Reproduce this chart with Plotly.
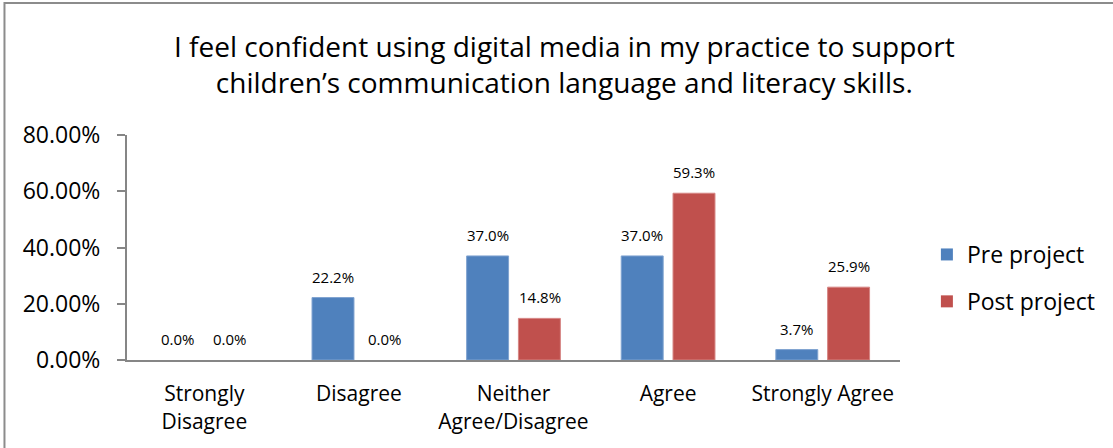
import plotly.graph_objects as go

categories = ["Strongly<br>Disagree", "Disagree", "Neither<br>Agree/Disagree", "Agree", "Strongly Agree"]
pre_project = [0.0, 0.222, 0.370, 0.370, 0.037]
post_project = [0.0, 0.0, 0.148, 0.593, 0.259]
y_ticks = [0, 0.2, 0.4, 0.6, 0.8]

FONT = "Open Sans"
W, H = 1113, 448
L, R, T, B = 127, 210, 135, 88
pw, ph = W - L - R, H - T - B

fig = go.Figure()
fig.add_trace(go.Bar(name="Pre project", x=categories, y=pre_project,
                     marker=dict(color="#4F81BD",
                                 line=dict(color="#7FA3D0", width=[1 if v else 0 for v in pre_project])),
                     legendgroup="pre"))
fig.add_trace(go.Bar(name="Post project", x=categories, y=post_project,
                     marker=dict(color="#C0504D",
                                 line=dict(color="#D68583", width=[1 if v else 0 for v in post_project])),
                     legendgroup="post"))

# data labels above each bar
for vals, shift in ((pre_project, -26), (post_project, 26)):
    for c, v in zip(categories, vals):
        fig.add_annotation(x=c, y=v, xref="x", yref="y", text=f"{v*100:.1f}%",
                           showarrow=False, xshift=shift, yshift=21,
                           yanchor="middle", font=dict(family=FONT, size=15, color="#000"))

# chart frame (grey border, top/left visible)
fig.add_shape(type="rect", xref="paper", yref="paper",
              x0=(4 - L) / pw, x1=(W + 20 - L) / pw,
              y0=-(H + 20 - (H - B)) / ph, y1=((H - B) - 3) / ph,
              line=dict(color="#8C8C8C", width=2), fillcolor="rgba(0,0,0,0)")

fig.update_layout(
    width=W, height=H,
    margin=dict(l=L, r=R, t=T, b=B),
    paper_bgcolor="white", plot_bgcolor="white",
    barmode="group", bargap=0.33, bargroupgap=0.19,
    font=dict(family=FONT, color="#000"),
    title=dict(text="I feel confident using digital media in my practice to support<br>children’s communication language and literacy skills.",
               x=0.507, y=1 - 57 / H, xanchor="center", yanchor="middle",
               xref="container", yref="container",
               font=dict(family=FONT, size=28, color="#000")),
    legend=dict(x=(930 - L) / pw, y=(360 - 278) / ph, xanchor="left", yanchor="middle",
                traceorder="grouped", tracegroupgap=14,
                font=dict(family=FONT, size=23, color="#000")),
    showlegend=True,
)
fig.update_yaxes(range=[0, 0.8], tickvals=y_ticks, tickformat=".2%",
                 showgrid=False, showline=True, linecolor="#868686", linewidth=2,
                 ticks="outside", ticklen=8, tickcolor="#868686", tickwidth=2,
                 ticklabelstandoff=12,
                 tickfont=dict(family=FONT, size=23, color="#000"), zeroline=False)
fig.update_xaxes(showline=True, linecolor="#868686", linewidth=2, ticks="",
                 ticklabelstandoff=14,
                 tickfont=dict(family=FONT, size=21, color="#000"))

# page body has an 8px default margin; drop it so the figure sits at the window origin
fig.write_html("out.html", config={"displayModeBar": False},
               post_script="document.body.style.margin='0';")
